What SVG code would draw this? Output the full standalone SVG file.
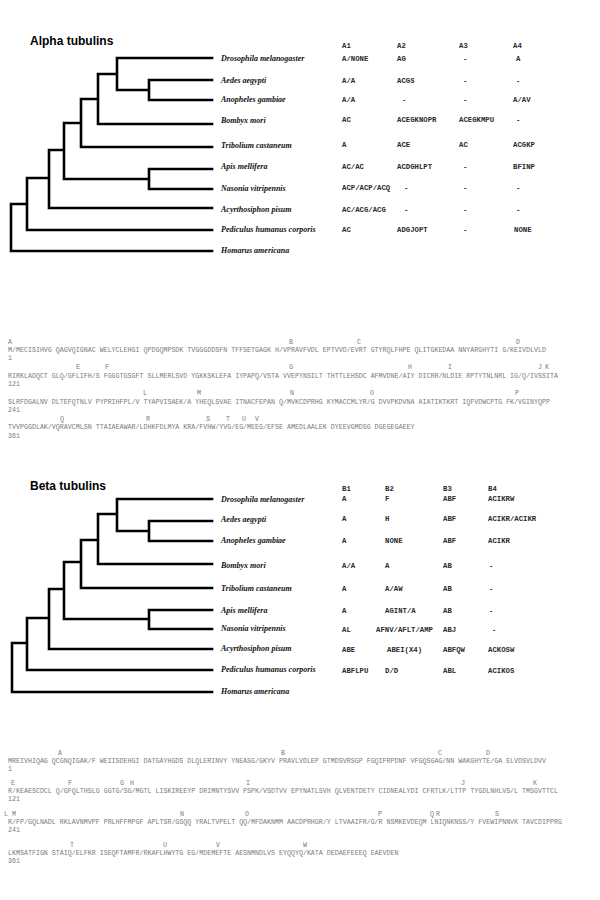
<svg xmlns="http://www.w3.org/2000/svg" width="600" height="900" viewBox="0 0 600 900">
<style>
.ti{font-family:"Liberation Sans",Arial,sans-serif;font-weight:bold;font-size:12px;fill:#000}
.sp{font-family:"Liberation Serif","Times New Roman",serif;font-style:italic;font-weight:bold;font-size:8px;fill:#111}
.tb{font-family:"Liberation Mono","Courier New",monospace;font-weight:bold;font-size:7.3px;fill:#2a2a2a}
.sq{font-family:"Liberation Mono","Courier New",monospace;font-size:6.65px;fill:#7a7a7a}
.lb{font-family:"Liberation Mono","Courier New",monospace;font-size:6.65px;fill:#7a7a7a;text-anchor:middle}
.br{fill:none;stroke:#000;stroke-width:2.6;stroke-linecap:square;stroke-linejoin:miter}
</style>
<rect width="600" height="900" fill="#fff"/>

<!-- ALPHA -->
<text class="ti" x="30" y="45">Alpha tubulins</text>
<g id="alpha-connectors">
<path class="br" d="M212,80H149V100H212 M149,90H117 M212,58H117V90 M117,74H98 M98,74V124H212 M98,99H81 M81,99V147H212 M81,123H64 M212,169H149V189H212 M149,179H64 M64,123V179 M64,150H49 M49,150V208H212 M49,178H27 M27,178V230H212 M27,204H11 M11,204V251H212"/>
</g>
<g id="alpha-dmel"><text class="sp" x="221" y="60.5">Drosophila melanogaster</text></g>
<g id="alpha-aaeg"><text class="sp" x="221" y="82.5">Aedes aegypti</text></g>
<g id="alpha-agam"><text class="sp" x="221" y="102">Anopheles gambiae</text></g>
<g id="alpha-bmor"><text class="sp" x="221" y="123">Bombyx mori</text></g>
<g id="alpha-tcas"><text class="sp" x="221" y="148">Tribolium castaneum</text></g>
<g id="alpha-amel"><text class="sp" x="221" y="169">Apis mellifera</text></g>
<g id="alpha-nvit"><text class="sp" x="221" y="191">Nasonia vitripennis</text></g>
<g id="alpha-apis"><text class="sp" x="221" y="211.5">Acyrthosiphon pisum</text></g>
<g id="alpha-phum"><text class="sp" x="221" y="231.5">Pediculus humanus corporis</text></g>
<g id="alpha-hame"><text class="sp" x="221" y="252.5">Homarus americana</text></g>

<g id="alpha-table" class="tb">
<text x="342" y="47.5">A1</text><text x="397" y="47.5">A2</text><text x="459" y="47.5">A3</text><text x="513" y="47.5">A4</text>
<text x="342" y="60.5">A/NONE</text><text x="397" y="60.5">AG</text><text x="463" y="60.5">-</text><text x="516" y="60.5">A</text>
<text x="342" y="82.5">A/A</text><text x="397" y="82.5">ACGS</text><text x="463" y="82.5">-</text><text x="516" y="82.5">-</text>
<text x="342" y="101.5">A/A</text><text x="402" y="101.5">-</text><text x="463" y="101.5">-</text><text x="513" y="101.5">A/AV</text>
<text x="342" y="121.5">AC</text><text x="397" y="121.5">ACEGKNOPR</text><text x="459" y="121.5">ACEGKMPU</text><text x="516" y="121.5">-</text>
<text x="342" y="146.5">A</text><text x="397" y="146.5">ACE</text><text x="459" y="146.5">AC</text><text x="513" y="146.5">ACGKP</text>
<text x="342" y="168.5">AC/AC</text><text x="397" y="168.5">ACDGHLPT</text><text x="463" y="168.5">-</text><text x="513" y="168.5">BFINP</text>
<text x="342" y="189.5">ACP/ACP/ACQ</text><text x="404" y="189.5">-</text><text x="463" y="189.5">-</text><text x="516" y="189.5">-</text>
<text x="342" y="211.5">AC/ACG/ACG</text><text x="404" y="211.5">-</text><text x="463" y="211.5">-</text><text x="516" y="211.5">-</text>
<text x="342" y="231.5">AC</text><text x="397" y="231.5">ADGJOPT</text><text x="463" y="231.5">-</text><text x="514" y="231.5">NONE</text>
</g>

<g id="alpha-sequence">
<text class="lb" x="10" y="344">A</text><text class="lb" x="291" y="344">B</text><text class="lb" x="359" y="344">C</text><text class="lb" x="518" y="344">D</text>
<text class="sq" x="8" y="352">M/MECISIHVG QAGVQIGNAC WELYCLEHGI QPDGQMPSDK TVGGGDDSFN TFFSETGAGK H/VPRAVFVDL EPTVVD/EVRT GTYRQLFHPE QLITGKEDAA NNYARGHYTI G/KEIVDLVLD</text>
<text class="sq" x="8" y="360">1</text>
<text class="lb" x="78" y="369">E</text><text class="lb" x="107" y="369">F</text><text class="lb" x="291" y="369">G</text><text class="lb" x="410" y="369">H</text><text class="lb" x="450" y="369">I</text><text class="lb" x="540" y="369">J</text><text class="lb" x="547" y="369">K</text>
<text class="sq" x="8" y="378">RIRKLADQCT GLQ/GFLIFH/S FGGGTGSGFT SLLMERLSVD YGKKSKLEFA IYPAPQ/VSTA VVEPYNSILT THTTLEHSDC AFMVDNE/AIY DICRR/NLDIE RPTYTNLNRL IG/Q/IVSSITA</text>
<text class="sq" x="8" y="386">121</text>
<text class="lb" x="145" y="395">L</text><text class="lb" x="199" y="395">M</text><text class="lb" x="292" y="395">N</text><text class="lb" x="372" y="395">O</text><text class="lb" x="517" y="395">P</text>
<text class="sq" x="8" y="404">SLRFDGALNV DLTEFQTNLV PYPRIHFPL/V TYAPVISAEK/A YHEQLSVAE ITNACFEPAN Q/MVKCDPRHG KYMACCMLYR/G DVVPKDVNA AIATIKTKRT IQFVDWCPTG FK/VGINYQPP</text>
<text class="sq" x="8" y="412">241</text>
<text class="lb" x="62" y="421">Q</text><text class="lb" x="148" y="421">R</text><text class="lb" x="208" y="421">S</text><text class="lb" x="228" y="421">T</text><text class="lb" x="244" y="421">U</text><text class="lb" x="257" y="421">V</text>
<text class="sq" x="8" y="429">TVVPGGDLAK/VQRAVCMLSN TTAIAEAWAR/LDHKFDLMYA KRA/FVHW/YVG/EG/MEEG/EFSE AMEDLAALEK DYEEVGMDSG DGEGEGAEEY</text>
<text class="sq" x="8" y="438">361</text>
</g>

<!-- BETA -->
<text class="ti" x="30" y="490">Beta tubulins</text>
<g id="beta-connectors">
<path class="br" d="M212,521H149V541H212 M149,531H117 M212,499H117V531 M117,514H98 M98,514V564H212 M98,540H81 M81,540V588H212 M81,562H64 M212,610H149V629H212 M149,619H64 M64,562V619 M64,589H49 M49,589V649H212 M49,618H27 M27,618V670H212 M27,643H12 M12,643V692H212"/>
</g>
<g id="beta-dmel"><text class="sp" x="221" y="501.5">Drosophila melanogaster</text></g>
<g id="beta-aaeg"><text class="sp" x="221" y="521.5">Aedes aegypti</text></g>
<g id="beta-agam"><text class="sp" x="221" y="542.5">Anopheles gambiae</text></g>
<g id="beta-bmor"><text class="sp" x="221" y="567.5">Bombyx mori</text></g>
<g id="beta-tcas"><text class="sp" x="221" y="590.5">Tribolium castaneum</text></g>
<g id="beta-amel"><text class="sp" x="221" y="612.5">Apis mellifera</text></g>
<g id="beta-nvit"><text class="sp" x="221" y="631">Nasonia vitripennis</text></g>
<g id="beta-apis"><text class="sp" x="221" y="651">Acyrthosiphon pisum</text></g>
<g id="beta-phum"><text class="sp" x="221" y="672">Pediculus humanus corporis</text></g>
<g id="beta-hame"><text class="sp" x="221" y="694">Homarus americana</text></g>

<g id="beta-table" class="tb">
<text x="342" y="490.5">B1</text><text x="385" y="490.5">B2</text><text x="443" y="490.5">B3</text><text x="488" y="490.5">B4</text>
<text x="342" y="500.5">A</text><text x="385" y="500.5">F</text><text x="443" y="500.5">ABF</text><text x="488" y="500.5">ACIKRW</text>
<text x="342" y="520.5">A</text><text x="385" y="520.5">H</text><text x="443" y="520.5">ABF</text><text x="488" y="520.5">ACIKR/ACIKR</text>
<text x="342" y="542.5">A</text><text x="385" y="542.5">NONE</text><text x="443" y="542.5">ABF</text><text x="488" y="542.5">ACIKR</text>
<text x="342" y="567.5">A/A</text><text x="385" y="567.5">A</text><text x="443" y="567.5">AB</text><text x="489" y="567.5">-</text>
<text x="342" y="590.5">A</text><text x="385" y="590.5">A/AW</text><text x="443" y="590.5">AB</text><text x="489" y="590.5">-</text>
<text x="342" y="612.5">A</text><text x="385" y="612.5">AGINT/A</text><text x="443" y="612.5">AB</text><text x="489" y="612.5">-</text>
<text x="342" y="631.5">AL</text><text x="376" y="631.5">AFNV/AFLT/AMP</text><text x="443" y="631.5">ABJ</text><text x="492" y="631.5">-</text>
<text x="342" y="651.5">ABE</text><text x="387" y="651.5">ABEI(X4)</text><text x="443" y="651.5">ABFQW</text><text x="488" y="651.5">ACKOSW</text>
<text x="342" y="672.5">ABFLPU</text><text x="385" y="672.5">D/D</text><text x="443" y="672.5">ABL</text><text x="488" y="672.5">ACIKOS</text>
</g>

<g id="beta-sequence">
<text class="lb" x="60" y="755">A</text><text class="lb" x="283" y="755">B</text><text class="lb" x="440" y="755">C</text><text class="lb" x="488" y="755">D</text>
<text class="sq" x="8" y="762.5">MREIVHIQAG QCGNQIGAK/F WEIISDEHGI DATGAYHGDS DLQLERINVY YNEASG/GKYV PRAVLVDLEP GTMDSVRSGP FGQIFRPDNF VFGQSGAG/NN WAKGHYTE/GA ELVDSVLDVV</text>
<text class="sq" x="8" y="771">1</text>
<text class="lb" x="13" y="785">E</text><text class="lb" x="70" y="785">F</text><text class="lb" x="122" y="785">G</text><text class="lb" x="132" y="785">H</text><text class="lb" x="248" y="785">I</text><text class="lb" x="463" y="785">J</text><text class="lb" x="535" y="785">K</text>
<text class="sq" x="8" y="792.5">R/KEAESCDCL Q/GFQLTHSLG GGTG/SG/MGTL LISKIREEYP DRIMNTYSVV PSPK/VSDTVV EPYNATLSVH QLVENTDETY CIDNEALYDI CFRTLK/LTTP TYGDLNHLVS/L TMSGVTTCL</text>
<text class="sq" x="8" y="801">121</text>
<text class="lb" x="6" y="816">L</text><text class="lb" x="14" y="816">M</text><text class="lb" x="182" y="816">N</text><text class="lb" x="247" y="816">O</text><text class="lb" x="380" y="816">P</text><text class="lb" x="432" y="816">Q</text><text class="lb" x="438" y="816">R</text><text class="lb" x="497" y="816">S</text>
<text class="sq" x="8" y="823.5">R/FP/GQLNADL RKLAVNMVPF PRLHFFMPGF APLTSR/GSQQ YRALTVPELT QQ/MFDAKNMM AACDPRHGR/Y LTVAAIFR/G/R NSMKEVDEQM LNIQNKNSS/Y FVEWIPNNVK TAVCDIPPRG</text>
<text class="sq" x="8" y="831.5">241</text>
<text class="lb" x="72" y="847">T</text><text class="lb" x="165" y="847">U</text><text class="lb" x="218" y="847">V</text><text class="lb" x="305" y="847">W</text>
<text class="sq" x="8" y="854.5">LKMSATFIGN STAIQ/ELFKR ISEQFTAMFR/RKAFLHWYTG EG/MDEMEFTE AESNMNDLVS EYQQYQ/KATA DEDAEFEEEQ EAEVDEN</text>
<text class="sq" x="8" y="863">361</text>
</g>
</svg>
